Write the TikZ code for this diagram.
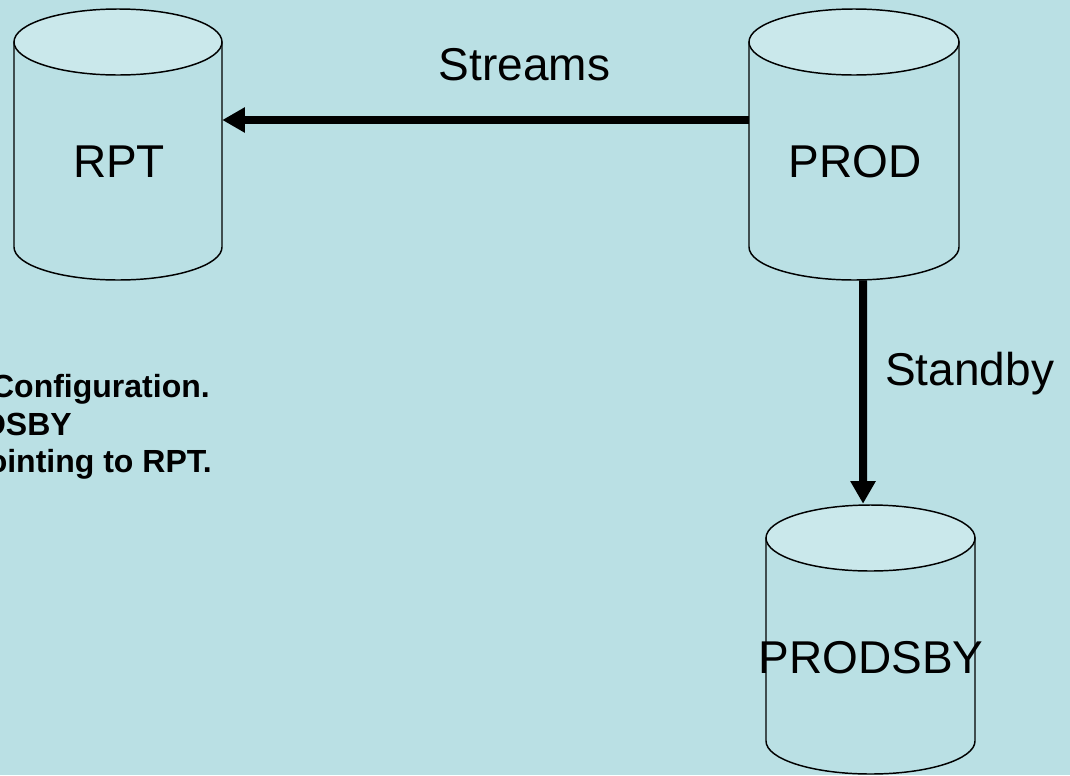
\documentclass[tikz,border=0pt]{standalone}
\usepackage{fontspec}
\setmainfont{Liberation Sans}
\usetikzlibrary{arrows.meta}
\definecolor{bg}{RGB}{186,224,228}
\definecolor{cyltop}{RGB}{202,232,235}
\tikzset{
  cylbody/.style={draw=black, line width=1.1pt, fill=bg},
  cyltopst/.style={draw=black, line width=1.1pt, fill=cyltop},
  bigtxt/.style={font=\fontsize{34.5pt}{40pt}\selectfont, inner sep=0pt},
  notetxt/.style={font=\fontsize{24pt}{28pt}\selectfont\bfseries, inner sep=0pt},
  box/.style={inner sep=0pt, draw=none},
  arr/.style={line width=6pt, -{Triangle[length=17pt,width=18pt]}}
}
\newcommand{\dbcyl}[5]{% x1, x2, ytopcenter, ybottomcenter, ry
  \pgfmathsetmacro{\rxx}{(#2-#1)/2}
  \draw[cylbody] (#1,#3) -- (#1,#4) arc[start angle=180,end angle=0,x radius=\rxx,y radius=#5] -- (#2,#3) -- cycle;
  \draw[cyltopst] ({(#1+#2)/2},#3) ellipse[x radius=\rxx, y radius=#5];
}
\begin{document}
\begin{tikzpicture}[x=0.75pt,y=-0.75pt]
\fill[bg] (0,0) rectangle (1070,775);
\useasboundingbox (0,0) rectangle (1070,775);
\clip (0,0) rectangle (1070,775);

% cylinders
\dbcyl{14}{222}{42}{247}{33}
\dbcyl{749}{959}{42}{247}{33}
\dbcyl{766}{975}{538}{741}{33}

% named boxes for the cylinders
\node[box, minimum width=156pt, minimum height=204pt] (rpt) at (118,144) {};
\node[box, minimum width=157.5pt, minimum height=204pt] (prod) at (854,144) {};
\node[box, minimum width=156.75pt, minimum height=202.5pt] (prodsby) at (870.5,639) {};

% labels
\node[bigtxt, anchor=base] (rptl) at (119,177) {RPT};
\node[bigtxt, anchor=base] (prodl) at (855,177) {PROD};
\node[bigtxt, anchor=base] (prodsbyl) at (871,673) {PRODSBY};
\node[bigtxt, anchor=base] (streams) at (524.5,80) {Streams};
\node[bigtxt, anchor=base west] (standby) at (885,385) {Standby};

% note text (clipped at the left border, as in the reference)
\node[notetxt, anchor=base east] (n1) at (210,397) {Configuration.};
\node[notetxt, anchor=base east] (n2) at (72,435) {DSBY};
\node[notetxt, anchor=base east] (n3) at (212,472) {ointing to RPT.};

% connectors
\draw[arr] ([yshift=18pt]prod.west) -- ([yshift=18pt]rpt.east);
\draw[arr] ([xshift=6.75pt]prod.south) -- ([xshift=-5.6pt]prodsby.north);
\end{tikzpicture}
\end{document}
